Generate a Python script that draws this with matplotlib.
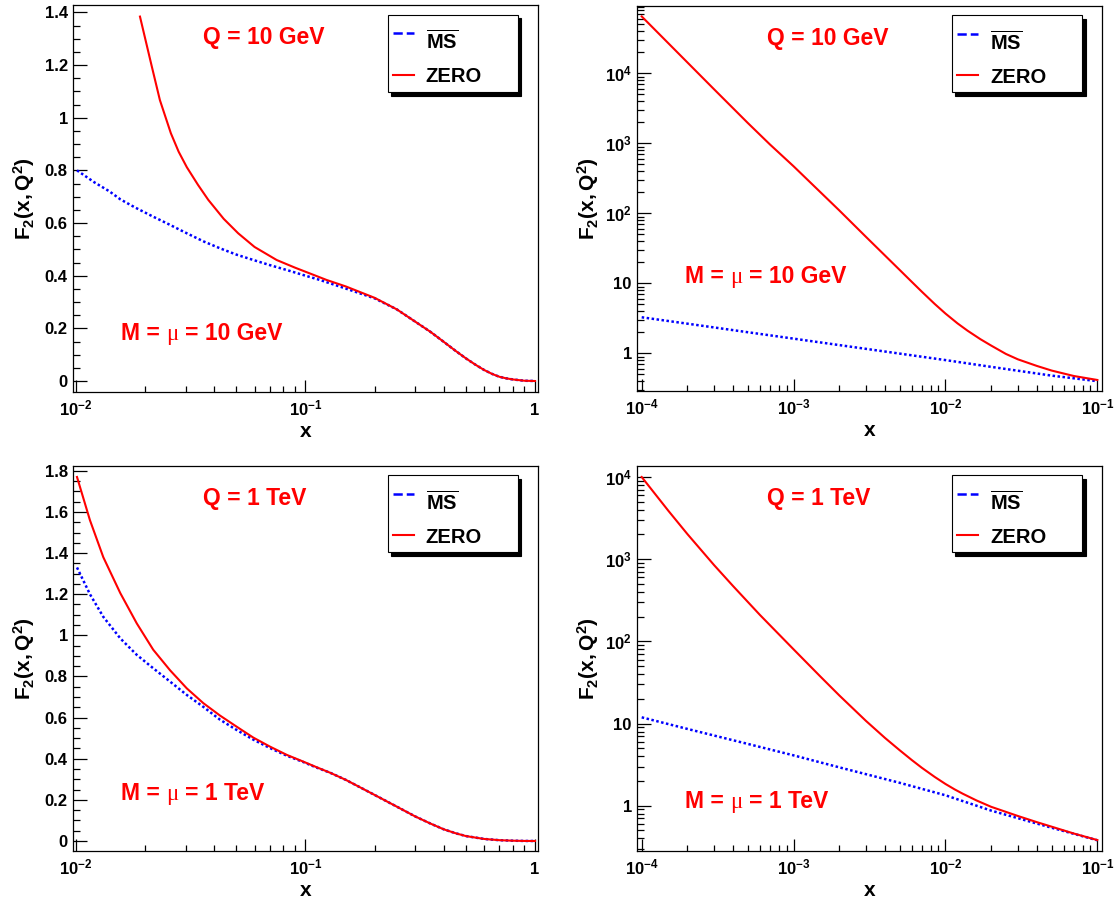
import math
import matplotlib
matplotlib.use("Agg")
import matplotlib.pyplot as plt
from matplotlib import transforms
from matplotlib.patches import Rectangle
from matplotlib.lines import Line2D
from matplotlib.ticker import MultipleLocator, LogLocator, FuncFormatter, NullFormatter

# ---------------- data ----------------
# Top-left: Q = 10 GeV, linear y
tl_x_ms = [0.0101, 0.012, 0.014, 0.0156, 0.018, 0.0217, 0.025, 0.0304, 0.036, 0.0424, 0.05,
           0.0593, 0.07, 0.0828, 0.1, 0.1157, 0.15, 0.2, 0.25, 0.3, 0.35, 0.4, 0.45, 0.5,
           0.55, 0.6, 0.65, 0.7, 0.75, 0.8, 0.9, 1.0]
tl_ms = [0.80, 0.755, 0.72, 0.69, 0.66, 0.624, 0.598, 0.561, 0.530, 0.504, 0.48, 0.4595,
         0.44, 0.4216, 0.40, 0.3836, 0.351, 0.314, 0.272, 0.226, 0.187, 0.149, 0.115, 0.086,
         0.062, 0.042, 0.027, 0.016, 0.010, 0.006, 0.001, 0.0]
tl_x_zero = [0.0190, 0.0200, 0.0214, 0.0232, 0.0259, 0.0280, 0.0304, 0.0340, 0.0377, 0.0440,
             0.0509, 0.0600, 0.0749, 0.0900, 0.1, 0.1237, 0.15, 0.2, 0.25, 0.3, 0.35, 0.4,
             0.45, 0.5, 0.55, 0.6, 0.65, 0.7, 0.75, 0.8, 0.9, 1.0]
tl_zero = [1.384, 1.302, 1.194, 1.067, 0.941, 0.871, 0.812, 0.745, 0.688, 0.616, 0.561, 0.509,
           0.4595, 0.4305, 0.415, 0.3836, 0.359, 0.316, 0.272, 0.226, 0.187, 0.149, 0.115,
           0.086, 0.062, 0.042, 0.027, 0.016, 0.010, 0.006, 0.001, 0.0]

# Top-right: Q = 10 GeV, log-log
tr_x_ms = [1e-4, 2e-4, 5e-4, 1e-3, 2e-3, 5e-3, 1e-2, 2e-2, 5e-2, 1e-1]
tr_ms = [3.27, 2.65, 2.0, 1.62, 1.31, 0.99, 0.80, 0.64, 0.48, 0.40]
tr_x_zero = [1e-4, 2e-4, 3e-4, 5e-4, 7e-4, 1e-3, 2e-3, 3e-3, 5e-3, 6e-3, 7e-3, 8.5e-3, 1e-2,
             1.2e-2, 1.4e-2, 1.7e-2, 2e-2, 2.5e-2, 3e-2, 4e-2, 5e-2, 7e-2, 1e-1]
tr_zero = [65000, 14300, 5900, 1950, 960, 470, 110, 46, 15.5, 10.5, 7.57, 5.07, 3.70, 2.68,
           2.10, 1.59, 1.29, 0.98, 0.82, 0.66, 0.567, 0.474, 0.416]

# Bottom-left: Q = 1 TeV, linear y
bl_x = [0.0101, 0.0115, 0.01315, 0.0156, 0.0184, 0.0217, 0.0257, 0.0304, 0.0359, 0.0424,
        0.0501, 0.0592, 0.07, 0.0828, 0.0978, 0.11, 0.128, 0.15, 0.175, 0.2, 0.25, 0.3, 0.35,
        0.4, 0.45, 0.5, 0.6, 0.7, 0.8, 0.9, 1.0]
bl_ms = [1.33, 1.20, 1.09, 0.985, 0.905, 0.84, 0.775, 0.71, 0.652, 0.59, 0.54, 0.493, 0.452,
         0.415, 0.384, 0.36, 0.332, 0.297, 0.258, 0.224, 0.167, 0.12, 0.085, 0.057, 0.038,
         0.024, 0.010, 0.004, 0.0015, 0.0003, 0.0]
bl_zero = [1.77, 1.56, 1.38, 1.205, 1.058, 0.93, 0.83, 0.742, 0.67, 0.61, 0.556, 0.503, 0.459,
           0.419, 0.386, 0.362, 0.332, 0.297, 0.258, 0.224, 0.167, 0.12, 0.085, 0.057, 0.038,
           0.024, 0.010, 0.004, 0.0015, 0.0003, 0.0]

# Bottom-right: Q = 1 TeV, log-log
br_x_ms = [1e-4, 2e-4, 5e-4, 1e-3, 2e-3, 5e-3, 1e-2, 2e-2, 5e-2, 1e-1]
br_ms = [11.9, 8.6, 5.65, 4.1, 2.93, 1.9, 1.34, 0.872, 0.54, 0.38]
br_x_zero = [1e-4, 1.5e-4, 2e-4, 3e-4, 4e-4, 6e-4, 1e-3, 1.5e-3, 2e-3, 3e-3, 4e-3, 5e-3, 6e-3,
             7e-3, 8.5e-3, 1e-2, 1.15e-2, 1.3e-2, 1.6e-2, 2e-2, 3e-2, 4e-2, 5e-2, 7e-2, 1e-1]
br_zero = [10000, 3870, 2020, 845, 470, 210, 80, 37.4, 22.0, 10.75, 6.68, 4.73, 3.6, 2.89,
           2.24, 1.84, 1.58, 1.40, 1.16, 0.97, 0.75, 0.631, 0.556, 0.459, 0.382]

q_labels = ["Q = 10 GeV", "Q = 10 GeV", "Q = 1 TeV", "Q = 1 TeV"]
m_values = ["10 GeV", "10 GeV", "1 TeV", "1 TeV"]
legend_labels = [r"$\overline{\mathrm{MS}}$", "ZERO"]

# ---------------- style ----------------
plt.rcParams["font.family"] = ["Liberation Sans", "DejaVu Sans"]
plt.rcParams["font.weight"] = "bold"
plt.rcParams["mathtext.fontset"] = "custom"
plt.rcParams["mathtext.rm"] = "Liberation Sans:bold"
plt.rcParams["mathtext.bf"] = "Liberation Sans:bold"
plt.rcParams["mathtext.it"] = "Liberation Sans:bold"
plt.rcParams["mathtext.sf"] = "Liberation Sans:bold"

RED = (1.0, 0.0, 0.0)
BLUE = (0.0, 0.0, 1.0)
W, H = 1118, 902
fig = plt.figure(figsize=(W / 100, H / 100), dpi=100)
fig.patch.set_facecolor("white")


def rect(l, t, r, b):
    return [l / W, 1 - b / H, (r - l) / W, (b - t) / H]


def logfmt(v, pos):
    n = int(round(math.log10(v)))
    if n == 0:
        return "1"
    if n == 1:
        return "10"
    return r"$\mathbf{10^{%d}}$" % n


def xlogfmt(v, pos):
    n = int(round(math.log10(v)))
    if n == 0:
        return "1"
    return r"$\mathbf{10^{%d}}$" % n


def linfmt(v, pos):
    return "%g" % round(v, 3)


def setup(ax, xlim, ylim, ylog):
    ax.set_xscale("log")
    ax.set_xlim(*xlim)
    if ylog:
        ax.set_yscale("log")
    ax.set_ylim(*ylim)
    ax.xaxis.set_major_locator(LogLocator(base=10))
    ax.xaxis.set_minor_locator(LogLocator(base=10, subs=range(2, 10), numticks=50))
    ax.xaxis.set_major_formatter(FuncFormatter(xlogfmt))
    ax.xaxis.set_minor_formatter(NullFormatter())
    if ylog:
        ax.yaxis.set_major_locator(LogLocator(base=10))
        ax.yaxis.set_minor_locator(LogLocator(base=10, subs=range(2, 10), numticks=50))
        ax.yaxis.set_major_formatter(FuncFormatter(logfmt))
        ax.yaxis.set_minor_formatter(NullFormatter())
    else:
        ax.yaxis.set_major_locator(MultipleLocator(0.2))
        ax.yaxis.set_minor_locator(MultipleLocator(0.05))
        ax.yaxis.set_major_formatter(FuncFormatter(linfmt))
    ax.tick_params(which="both", direction="in", top=False, right=False, width=0.9,
                   color="black", labelsize=12)
    ax.tick_params(axis="y", which="major", length=10, pad=3.5)
    ax.tick_params(axis="y", which="minor", length=5)
    ax.tick_params(axis="x", which="major", length=8.5, pad=16.8)
    ax.tick_params(axis="x", which="minor", length=4.3)
    for t in ax.xaxis.get_major_ticks():
        t.label1.set_verticalalignment("baseline")
    for s in ax.spines.values():
        s.set_linewidth(0.9)
        s.set_color("black")
    ax.set_xlabel("x", fontsize=15, fontweight="bold", va="center")
    ax.xaxis.set_label_coords(0.5, -0.1034)
    ax.set_ylabel(r"$\mathbf{F_{2}(x,Q^{2})}$", fontsize=15, va="center")
    ax.yaxis.set_label_coords(-0.1047, 0.5)


def seq_text(ax, x, y, parts):
    r = fig.canvas.get_renderer()
    off = 0.0
    for s, props in parts:
        if s == " ":
            t1 = ax.text(0, 0, "a a", **props)
            t2 = ax.text(0, 0, "aa", **props)
            w = t1.get_window_extent(r).width - t2.get_window_extent(r).width
            t1.remove()
            t2.remove()
            off += w
            continue
        tr = transforms.offset_copy(ax.transAxes, fig=fig, x=off, y=0, units="dots")
        t = ax.text(x, y, s, transform=tr, ha="left", va="baseline", color=RED, **props)
        off += t.get_window_extent(r).width


def draw_legend(ax, h_ms, h_zero):
    x0, x1, y0, y1 = 0.677, 0.957, 0.775, 0.975
    sh = transforms.offset_copy(ax.transAxes, fig=fig, x=3.5, y=-3.5, units="dots")
    ax.add_patch(Rectangle((x0, y0), x1 - x0, y1 - y0, transform=sh, facecolor="black",
                           edgecolor="black", lw=0.8, zorder=5, clip_on=False))
    ax.add_patch(Rectangle((x0, y0), x1 - x0, y1 - y0, transform=ax.transAxes,
                           facecolor="white", edgecolor="black", lw=0.8, zorder=6,
                           clip_on=False))
    rows = [(h_ms, legend_labels[0], 0.9265, 0.887), (h_zero, legend_labels[1], 0.820, 0.800)]
    for h, lab, ys, yt in rows:
        ax.add_line(Line2D([0.688, 0.734], [ys, ys], transform=ax.transAxes,
                           color=h.get_color(), ls=h.get_linestyle(), lw=h.get_linewidth(),
                           dash_capstyle="butt", zorder=7))
        ax.text(0.759, yt, lab, transform=ax.transAxes, fontsize=14.5, fontweight="bold",
                ha="left", va="baseline", color="black", zorder=8)


panels = [
    (rect(72.7, 5, 538, 391.7), (10 ** -2.0144, 10 ** 0.0131), (-0.0406, 1.428), False,
     tl_x_ms, tl_ms, tl_x_zero, tl_zero, 0.1332),
    (rect(636.7, 5.7, 1102.3, 391), (10 ** -4.0329, 10 ** -0.9671), (10 ** -0.5386, 10 ** 4.966),
     True, tr_x_ms, tr_ms, tr_x_zero, tr_zero, 0.2795),
    (rect(72.7, 465.7, 538, 851), (10 ** -2.0144, 10 ** 0.0131), (-0.0486, 1.8248), False,
     bl_x, bl_ms, bl_x, bl_zero, 0.1324),
    (rect(636.7, 465.7, 1102.3, 851), (10 ** -4.0329, 10 ** -0.9671), (10 ** -0.551, 10 ** 4.1375),
     True, br_x_ms, br_ms, br_x_zero, br_zero, 0.112),
]

sans = dict(fontsize=16.5, fontweight="bold", family="Liberation Sans")
serif = dict(fontsize=16.5, fontweight="normal", family="Liberation Serif")

for i, (r_, xl, yl, ylog, xm, ym, xz, yz, my) in enumerate(panels):
    ax = fig.add_axes(r_)
    setup(ax, xl, yl, ylog)
    h_ms, = ax.plot(xm, ym, color=BLUE, lw=1.8, ls=(0, (1, 1)), dash_capstyle="butt", zorder=3)
    h_zero, = ax.plot(xz, yz, color=RED, lw=1.5, zorder=4)
    ax.text(0.2807, 0.899, q_labels[i], transform=ax.transAxes, color=RED, ha="left",
            va="baseline", **sans)
    seq_text(ax, 0.103, my, [("M =", sans), (" ", sans), ("\u03bc", serif), (" ", sans),
                             ("= " + m_values[i], sans)])
    draw_legend(ax, h_ms, h_zero)

fig.savefig("out.png", dpi=100, facecolor="white")
